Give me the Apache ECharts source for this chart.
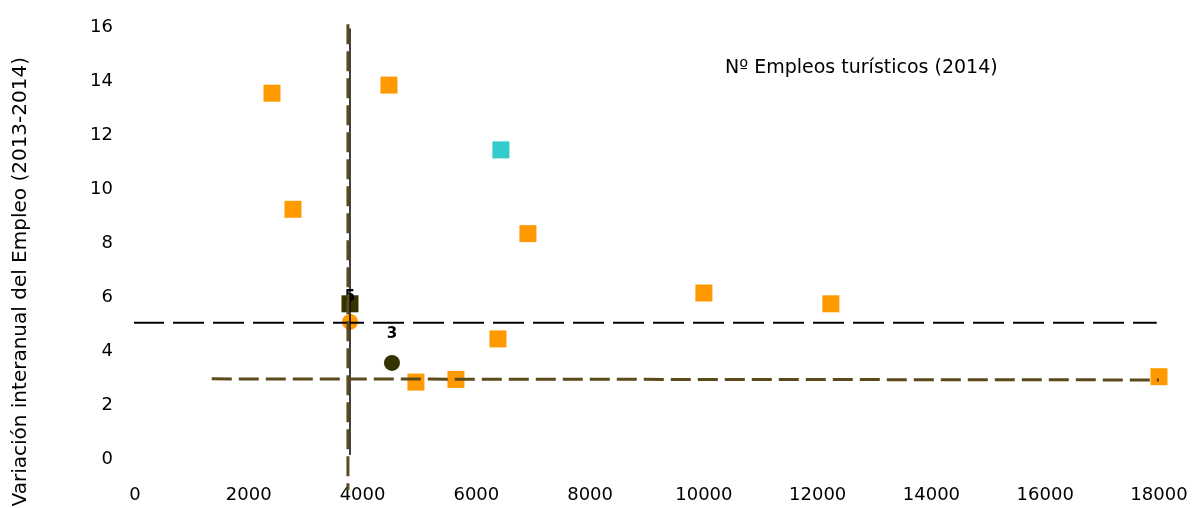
<!DOCTYPE html>
<html><head><meta charset="utf-8">
<script src="https://cdn.jsdelivr.net/npm/echarts@6/dist/echarts.min.js"></script>
<style>html,body{margin:0;padding:0;background:#fff}#c{width:1192px;height:508px}</style>
</head><body><div id="c"></div>
<script>
// Data
var xTicks = [0, 2000, 4000, 6000, 8000, 10000, 12000, 14000, 16000, 18000];
var yTicks = [0, 2, 4, 6, 8, 10, 12, 14, 16];
var orangeX = [2408, 4464, 2777, 6907, 10000, 12232, 6380, 4938, 5641, 18000];
var orangeY = [13.4, 13.7, 9.1, 8.2, 6.0, 5.6, 4.3, 2.7, 2.8, 2.9];
var cyanX = [6432];
var cyanY = [11.3];
var darkSquareX = [3779];
var darkSquareY = [5.6];
var darkSquareLabel = ['5'];
var orangeCircleX = [3779];
var orangeCircleY = [4.93];
var darkCircleX = [4517];
var darkCircleY = [3.41];
var darkCircleLabel = ['3'];
var meanLineX = [-35, 17960];
var meanLineY = [4.9, 4.9];
var refHLineX = [1350, 18000];
var refHLineY = [2.82, 2.78];
var refVLineX = [3743, 3743];
var refVLineY = [15.95, -1.3];
var axisVLineX = [3779, 3779];
var axisVLineY = [15.8, 0];
var xTitle = 'Nº Empleos turísticos (2014)';
var yTitle = 'Variación interanual del Empleo (2013-2014)';

function pairs(xs, ys) { return xs.map(function (x, i) { return [x, ys[i]]; }); }

var FONT = 'DejaVu Sans';
var chart = echarts.init(document.getElementById('c'));
chart.setOption({
  animation: false,
  backgroundColor: '#fff',
  textStyle: { fontFamily: FONT },
  grid: { left: 135, right: 33, top: 23, bottom: 53 },
  xAxis: {
    type: 'value', min: xTicks[0], max: xTicks[xTicks.length - 1], interval: 2000,
    axisLine: { show: false }, axisTick: { show: false }, splitLine: { show: false },
    axisLabel: { margin: 31, fontSize: 18, color: '#000', fontFamily: FONT,
      formatter: function (v) { return String(v); } }
  },
  yAxis: {
    type: 'value', min: yTicks[0], max: yTicks[yTicks.length - 1], interval: 2,
    axisLine: { show: false }, axisTick: { show: false }, splitLine: { show: false },
    axisLabel: { margin: 22, fontSize: 18, color: '#000', fontFamily: FONT,
      verticalAlign: 'top', lineHeight: 8,
      formatter: function (v) { return String(v); } }
  },
  graphic: [
    { type: 'text', left: 725, top: 59, style: { text: xTitle, font: '19px "DejaVu Sans"', fill: '#000' } },
    { type: 'text', x: 21, y: 57, rotation: Math.PI / 2,
      style: { text: yTitle, font: '20px "DejaVu Sans"', fill: '#000', align: 'right', verticalAlign: 'middle' } }
  ],
  series: [
    { type: 'scatter', symbol: 'rect', symbolSize: 17, data: pairs(orangeX, orangeY),
      itemStyle: { color: '#FF9900', opacity: 1 }, z: 2 },
    { type: 'scatter', symbol: 'rect', symbolSize: 17, data: pairs(cyanX, cyanY),
      itemStyle: { color: '#33CCCC', opacity: 1 }, z: 2 },
    { type: 'scatter', symbol: 'rect', symbolSize: 17, data: pairs(darkSquareX, darkSquareY),
      itemStyle: { color: '#333300', opacity: 1 }, z: 2,
      label: { show: true, position: 'top', distance: -9, formatter: function (p) { return darkSquareLabel[p.dataIndex]; },
        color: '#000', fontSize: 15, fontWeight: 'bold', fontFamily: FONT } },
    { type: 'scatter', symbol: 'circle', symbolSize: 16, data: pairs(orangeCircleX, orangeCircleY),
      itemStyle: { color: '#FF9900', opacity: 1 }, z: 2 },
    { type: 'scatter', symbol: 'circle', symbolSize: 16, data: pairs(darkCircleX, darkCircleY),
      itemStyle: { color: '#333300', opacity: 1 }, z: 2,
      label: { show: true, position: 'top', distance: 13, formatter: function (p) { return darkCircleLabel[p.dataIndex]; },
        color: '#000', fontSize: 15, fontWeight: 'bold', fontFamily: FONT } },
    { type: 'line', data: pairs(axisVLineX, axisVLineY), symbol: 'none', clip: false, z: 3,
      lineStyle: { color: '#000', width: 1.5 } },
    { type: 'line', data: pairs(meanLineX, meanLineY), symbol: 'none', clip: false, z: 4,
      lineStyle: { color: '#000', width: 2, type: [31, 9] } },
    { type: 'line', data: pairs(refHLineX, refHLineY), symbol: 'none', clip: false, z: 4,
      lineStyle: { color: '#5C4A1C', width: 3, type: [20, 7] } },
    { type: 'line', data: pairs(refVLineX, refVLineY), symbol: 'none', clip: false, z: 4,
      lineStyle: { color: '#5C4A1C', width: 3, type: [20, 7] } }
  ]
});
</script>
</body></html>
